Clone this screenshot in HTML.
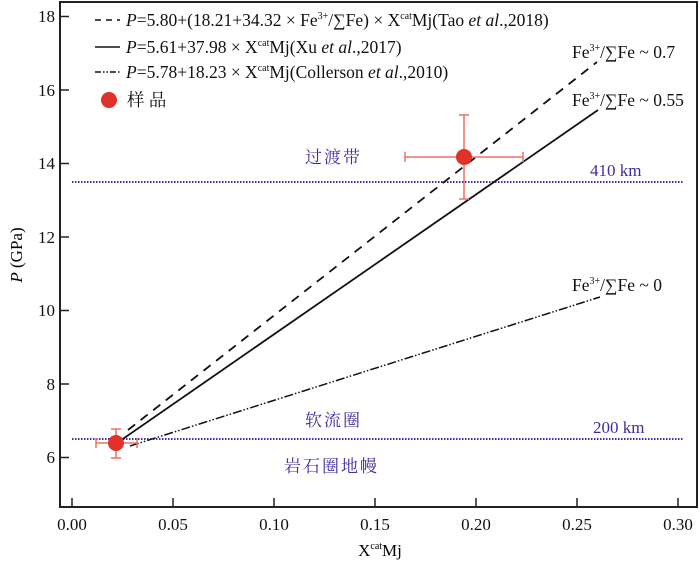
<!DOCTYPE html>
<html><head><meta charset="utf-8"><style>
body{margin:0;background:#fff}
svg text{font-family:"Liberation Serif","Noto Serif CJK SC",serif;}
</style></head><body>
<svg width="700" height="566" viewBox="0 0 700 566" xmlns="http://www.w3.org/2000/svg">
<rect x="60" y="2" width="637" height="505" fill="none" stroke="#222" stroke-width="2"/>
<g stroke="#222" stroke-width="1.5">
<line x1="60" y1="16.5" x2="69" y2="16.5"/><line x1="60" y1="90" x2="69" y2="90"/>
<line x1="60" y1="163.5" x2="69" y2="163.5"/><line x1="60" y1="237" x2="69" y2="237"/>
<line x1="60" y1="310.5" x2="69" y2="310.5"/><line x1="60" y1="384" x2="69" y2="384"/>
<line x1="60" y1="457.5" x2="69" y2="457.5"/>
<line x1="72" y1="507" x2="72" y2="498"/><line x1="173" y1="507" x2="173" y2="498"/>
<line x1="274" y1="507" x2="274" y2="498"/><line x1="375" y1="507" x2="375" y2="498"/>
<line x1="476" y1="507" x2="476" y2="498"/><line x1="577" y1="507" x2="577" y2="498"/>
<line x1="678" y1="507" x2="678" y2="498"/>
</g>
<g font-size="17" fill="#111" text-anchor="end">
<text x="55" y="22">18</text><text x="55" y="96">16</text><text x="55" y="169">14</text>
<text x="55" y="243">12</text><text x="55" y="316">10</text><text x="55" y="390">8</text>
<text x="55" y="463">6</text></g>
<g font-size="17" fill="#111" text-anchor="middle">
<text x="72" y="530">0.00</text><text x="173" y="530">0.05</text><text x="274" y="530">0.10</text>
<text x="375" y="530">0.15</text><text x="476" y="530">0.20</text><text x="577" y="530">0.25</text>
<text x="678" y="530">0.30</text></g>
<text x="380" y="556" font-size="17" text-anchor="middle">X<tspan font-size="10" dy="-7">cat</tspan><tspan dy="7">Mj</tspan></text>
<text transform="translate(22,255) rotate(-90)" font-size="17" text-anchor="middle"><tspan font-style="italic">P</tspan> (GPa)</text>
<line x1="72" y1="182" x2="683" y2="182" stroke="#3a2fa8" stroke-width="2" stroke-dasharray="1.5,1.5"/>
<line x1="72" y1="439" x2="683" y2="439" stroke="#3a2fa8" stroke-width="2" stroke-dasharray="1.5,1.5"/>
<line x1="128" y1="430" x2="597" y2="62" stroke="#111" stroke-width="1.8" stroke-dasharray="9,7"/>
<line x1="117" y1="443" x2="598" y2="110" stroke="#111" stroke-width="1.8"/>
<line x1="130" y1="446" x2="600" y2="297" stroke="#111" stroke-width="1.5" stroke-dasharray="9,2,1.5,2,1.5,2"/>
<g stroke="#f07060" stroke-width="1.5">
<line x1="96" y1="443" x2="137" y2="443"/><line x1="96" y1="438" x2="96" y2="448"/><line x1="137" y1="438" x2="137" y2="448"/>
<line x1="116" y1="429" x2="116" y2="458"/><line x1="111" y1="429" x2="121" y2="429"/><line x1="111" y1="458" x2="121" y2="458"/>
<line x1="405" y1="157" x2="523" y2="157"/><line x1="405" y1="152" x2="405" y2="162"/><line x1="523" y1="152" x2="523" y2="162"/>
<line x1="464" y1="115" x2="464" y2="199"/><line x1="459" y1="115" x2="469" y2="115"/><line x1="459" y1="199" x2="469" y2="199"/>
</g>
<circle cx="116" cy="443" r="8" fill="#e2302a"/>
<circle cx="464" cy="157" r="8" fill="#e2302a"/>
<g font-size="17.5" fill="#111">
<line x1="95" y1="20" x2="120" y2="20" stroke="#111" stroke-width="1.5" stroke-dasharray="6,5"/>
<text x="126" y="26"><tspan font-style="italic">P</tspan>=5.80+(18.21+34.32 × Fe<tspan font-size="10" dy="-7">3+</tspan><tspan dy="7">/∑Fe) × X</tspan><tspan font-size="10" dy="-7">cat</tspan><tspan dy="7">Mj(Tao </tspan><tspan font-style="italic">et al</tspan>.,2018)</text>
<line x1="95" y1="47" x2="120" y2="47" stroke="#111" stroke-width="1.5"/>
<text x="126" y="53"><tspan font-style="italic">P</tspan>=5.61+37.98 × X<tspan font-size="10" dy="-7">cat</tspan><tspan dy="7">Mj(Xu </tspan><tspan font-style="italic">et al</tspan>.,2017)</text>
<line x1="95" y1="72" x2="120" y2="72" stroke="#111" stroke-width="1.5" stroke-dasharray="6,2,1.5,2,1.5,2"/>
<text x="126" y="78"><tspan font-style="italic">P</tspan>=5.78+18.23 ×  X<tspan font-size="10" dy="-7">cat</tspan><tspan dy="7">Mj(Collerson </tspan><tspan font-style="italic">et al</tspan>.,2010)</text>
<circle cx="109" cy="100" r="8" fill="#e2302a"/>
<text x="127" y="106">样 品</text>
<text x="572" y="58">Fe<tspan font-size="10" dy="-7">3+</tspan><tspan dy="7">/∑Fe ~ 0.7</tspan></text>
<text x="572" y="106">Fe<tspan font-size="10" dy="-7">3+</tspan><tspan dy="7">/∑Fe ~ 0.55</tspan></text>
<text x="572" y="291">Fe<tspan font-size="10" dy="-7">3+</tspan><tspan dy="7">/∑Fe ~ 0</tspan></text>
</g>
<g font-size="17" fill="#3a2fa0">
<text x="305" y="163" letter-spacing="2">过渡带</text>
<text x="590" y="176">410 km</text>
<text x="305" y="426" letter-spacing="2">软流圈</text>
<text x="593" y="433">200 km</text>
<text x="284" y="472" letter-spacing="2">岩石圈地幔</text>
</g>
</svg>
</body></html>
